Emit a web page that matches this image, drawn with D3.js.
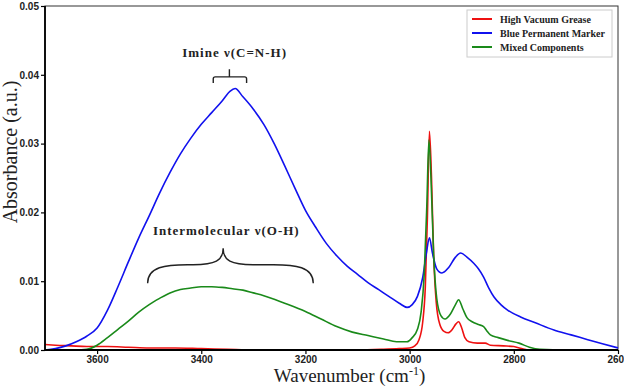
<!DOCTYPE html>
<meta charset="utf-8">
<style>
  body { margin: 0; background: #fff; }
  svg { display: block; font-family: "Liberation Serif", "Times New Roman", serif; }
  .tick text { font-weight: bold; font-size: 10px; fill: #222; }
  .tick line { stroke: #000; stroke-width: 1.2px; }
  .line { fill: none; stroke-width: 1.6px; stroke-linejoin: round; }
  .note { font-weight: bold; font-size: 13px; letter-spacing: 1px; fill: #222; }
  .brace { fill: none; stroke: #222; stroke-width: 1.4px; }
</style>
<body></body>
<script src="https://d3js.org/d3.v7.min.js"></script>
<script>
// spectra: [wavenumber, absorbance]
var greaseData = [
  [3700,0.0008],[3680,0.0007],[3650,0.0006],[3620,0.0005],[3580,0.0005],[3540,0.0004],
  [3500,0.0003],[3450,0.0003],[3400,0.0002],[3350,0.0001],[3300,0.0000],[3200,0.0000],
  [3100,0.0000],[3050,0.0001],[3020,0.0002],[3000,0.0003],[2990,0.0006],[2982,0.0015],
  [2975,0.0040],[2970,0.0090],[2966,0.0190],[2962,0.0318],[2958,0.0250],[2954,0.0140],
  [2949,0.0070],[2942,0.0037],[2934,0.0027],[2926,0.0025],[2918,0.0030],[2911,0.0038],
  [2906,0.0041],[2900,0.0032],[2894,0.0018],[2886,0.0012],[2870,0.0010],[2855,0.0010],
  [2845,0.0007],[2820,0.0006],[2800,0.0005],[2785,0.0002],[2770,0.0000],[2600,0.0000]
];

var markerData = [
  [3700,0.0000],[3680,0.0002],[3660,0.0006],[3640,0.0012],[3620,0.0020],[3600,0.0032],
  [3580,0.0058],[3560,0.0092],[3540,0.0128],[3520,0.0163],[3500,0.0195],[3480,0.0228],
  [3460,0.0258],[3440,0.0285],[3420,0.0308],[3400,0.0328],[3380,0.0345],[3360,0.0362],
  [3345,0.0376],[3335,0.0380],[3320,0.0368],[3300,0.0350],[3280,0.0328],[3260,0.0300],
  [3240,0.0268],[3220,0.0235],[3200,0.0203],[3180,0.0178],[3160,0.0155],[3140,0.0137],
  [3120,0.0122],[3100,0.0110],[3080,0.0098],[3060,0.0088],[3040,0.0078],[3020,0.0068],
  [3005,0.0062],[2995,0.0066],[2985,0.0078],[2975,0.0105],[2968,0.0140],[2962,0.0163],
  [2956,0.0140],[2948,0.0118],[2938,0.0112],[2925,0.0120],[2912,0.0135],[2902,0.0141],
  [2890,0.0135],[2877,0.0126],[2868,0.0118],[2858,0.0106],[2848,0.0090],[2838,0.0077],
  [2825,0.0066],[2812,0.0058],[2787,0.0048],[2760,0.0040],[2723,0.0029],[2690,0.0022],
  [2658,0.0015],[2630,0.0009],[2600,0.0003]
];

var mixedData = [
  [3700,0.0000],[3640,0.0000],[3620,0.0001],[3600,0.0007],[3580,0.0018],[3560,0.0030],
  [3540,0.0042],[3520,0.0055],[3500,0.0066],[3480,0.0075],[3460,0.0083],[3440,0.0088],
  [3420,0.0090],[3400,0.0092],[3380,0.0092],[3360,0.0091],[3340,0.0089],[3320,0.0087],
  [3300,0.0083],[3280,0.0079],[3240,0.0068],[3200,0.0056],[3170,0.0045],[3140,0.0034],
  [3110,0.0026],[3080,0.0021],[3050,0.0016],[3025,0.0012],[3005,0.0012],[2995,0.0018],
  [2985,0.0030],[2978,0.0055],[2972,0.0110],[2967,0.0210],[2963,0.0305],[2959,0.0250],
  [2954,0.0140],[2948,0.0075],[2940,0.0050],[2932,0.0045],[2922,0.0052],[2912,0.0066],
  [2906,0.0073],[2898,0.0060],[2890,0.0047],[2880,0.0041],[2868,0.0037],[2858,0.0034],
  [2852,0.0028],[2845,0.0022],[2830,0.0018],[2812,0.0014],[2790,0.0010],[2770,0.0004],
  [2750,0.0001],[2700,0.0000],[2600,0.0000]
];

var seriesNames = ["High Vacuum Grease", "Blue Permanent Marker", "Mixed Components"];
var seriesColors = ["#ee1111", "#1111ee", "#1a8a1a"];
var xTicks = [3600, 3400, 3200, 3000, 2800, 2600];
var yTicks = [0, 0.01, 0.02, 0.03, 0.04, 0.05];

var width = 624, height = 386;
var margin = {top: 6, right: 6, bottom: 36, left: 45};

var svg = d3.select("body").append("svg")
    .attr("width", width)
    .attr("height", height);

var x = d3.scaleLinear().domain([3700, 2600]).range([margin.left, width - margin.right]);
var y = d3.scaleLinear().domain([0, 0.05]).range([height - margin.bottom, margin.top]);

// frame
svg.append("rect")
  .attr("x", x.range()[0]).attr("y", y.range()[1])
  .attr("width", x.range()[1] - x.range()[0])
  .attr("height", y.range()[0] - y.range()[1])
  .attr("fill", "none").attr("stroke", "#333").attr("stroke-width", 1);

var line = d3.line()
  .x(function(d){ return x(d[0]); })
  .y(function(d){ return y(d[1]); })
  .curve(d3.curveMonotoneX);

[greaseData, markerData, mixedData].forEach(function(data, i) {
  svg.append("path")
    .datum(data)
    .attr("class", "line")
    .attr("stroke", seriesColors[i])
    .attr("d", line);
});

// axes
var gx = svg.append("g")
  .attr("transform", "translate(0," + y.range()[0] + ")")
  .call(d3.axisBottom(x).tickValues(xTicks).tickSize(4).tickPadding(2).tickFormat(d3.format("d")));
gx.select(".domain").remove();

var gy = svg.append("g")
  .attr("transform", "translate(" + x.range()[0] + ",0)")
  .call(d3.axisLeft(y).tickValues(yTicks).tickSize(4).tickPadding(2).tickFormat(d3.format(".2f")));
gy.select(".domain").remove();

svg.append("line")
  .attr("x1", x.range()[0]).attr("x2", x.range()[1])
  .attr("y1", y.range()[0]).attr("y2", y.range()[0])
  .attr("stroke", "#000").attr("stroke-width", 1.8);
svg.append("line")
  .attr("x1", x.range()[0]).attr("x2", x.range()[0])
  .attr("y1", y.range()[0]).attr("y2", y.range()[1])
  .attr("stroke", "#000").attr("stroke-width", 1.8);

// axis titles
var xt = svg.append("text")
  .attr("x", (x.range()[0] + x.range()[1]) / 2 + 18)
  .attr("y", 382)
  .attr("text-anchor", "middle")
  .attr("font-size", 19)
  .attr("fill", "#222");
xt.append("tspan").text("Wavenumber (cm");
xt.append("tspan").attr("dy", -7).attr("font-size", 12).text("-1");
xt.append("tspan").attr("dy", 7).text(")");

svg.append("text")
  .attr("transform", "translate(17,152) rotate(-90)")
  .attr("text-anchor", "middle")
  .attr("font-size", 20)
  .attr("fill", "#222")
  .text("Absorbance (a.u.)");

// legend
var legend = svg.append("g").attr("transform", "translate(467,10)");
legend.append("rect")
  .attr("width", 145).attr("height", 47)
  .attr("fill", "#fff").attr("stroke", "#ccc").attr("stroke-width", 1);
seriesNames.forEach(function(name, i) {
  legend.append("line")
    .attr("x1", 5).attr("x2", 25)
    .attr("y1", 9 + i * 14).attr("y2", 9 + i * 14)
    .attr("stroke", seriesColors[i]).attr("stroke-width", 2);
  legend.append("text")
    .attr("x", 33).attr("y", 12.5 + i * 14)
    .attr("font-size", 10).attr("font-weight", "bold").attr("fill", "#222")
    .text(name);
});

// annotations
svg.append("text").attr("class", "note")
  .attr("x", x(3336)).attr("y", y(0.0426))
  .attr("text-anchor", "middle")
  .text("Imine \u03BD(C=N-H)");

var bx0 = x(3377), bx1 = x(3313), bxc = x(3346);
var by0 = y(0.0388), by1 = y(0.0397), byt = y(0.0408);
svg.append("path").attr("class", "brace")
  .attr("d", "M" + bx0 + "," + by0 + "L" + bx0 + "," + (by1 + 2) + "Q" + bx0 + "," + by1 + " " + (bx0 + 2) + "," + by1 +
             "L" + (bx1 - 2) + "," + by1 + "Q" + bx1 + "," + by1 + " " + bx1 + "," + (by1 + 2) + "L" + bx1 + "," + by0 +
             "M" + bxc + "," + by1 + "L" + bxc + "," + byt);

svg.append("text").attr("class", "note")
  .attr("x", x(3352)).attr("y", y(0.0167))
  .attr("text-anchor", "middle")
  .text("Intermolecular \u03BD(O-H)");

var cx0 = x(3503), cx1 = x(3185), cxc = x(3358);
var cyEnd = y(0.0097), cyMid = y(0.0124), cyTop = y(0.0148);
svg.append("path").attr("class", "brace")
  .attr("d", "M" + cx0 + "," + cyEnd +
             "C" + cx0 + "," + (cyMid + 2) + " " + (cx0 + 18) + "," + cyMid + " " + (cx0 + 40) + "," + cyMid +
             "L" + (cxc - 30) + "," + cyMid +
             "C" + (cxc - 8) + "," + cyMid + " " + cxc + "," + (cyMid - 4) + " " + cxc + "," + cyTop +
             "C" + cxc + "," + (cyMid - 4) + " " + (cxc + 8) + "," + cyMid + " " + (cxc + 30) + "," + cyMid +
             "L" + (cx1 - 40) + "," + cyMid +
             "C" + (cx1 - 18) + "," + cyMid + " " + cx1 + "," + (cyMid + 2) + " " + cx1 + "," + cyEnd);
</script>
